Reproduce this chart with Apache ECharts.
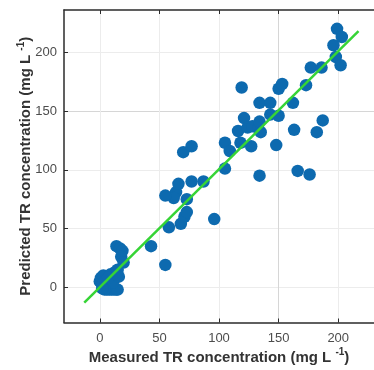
<!DOCTYPE html>
<html>
<head>
<meta charset="utf-8">
<script src="https://cdn.jsdelivr.net/npm/echarts@6/dist/echarts.min.js"></script>
<style>
  html, body { margin: 0; padding: 0; background: #fff; }
  #chart { width: 374px; height: 370px; }
</style>
</head>
<body>
<div id="chart"></div>
<script>
// Measured vs predicted TR concentration (mg L^-1)
const measured = [
  0, 1, 2, 3, 4, 5, 6, 8, 10, 12, 14, 15, 9, 11, 13, 7, 4, 2,
  14, 17, 19, 18, 20, 15, 16,
  43, 55,
  58, 68, 71, 73, 73, 64, 62, 55, 66, 77, 87, 96, 70, 77,
  105, 105, 109,
  118, 127, 148, 134, 166, 176,
  116, 121, 124, 128, 133, 135, 134, 143, 150, 163, 182, 187,
  119, 134, 143, 150, 153, 162, 173, 177, 186, 196, 199, 203, 198, 202
];
const predicted = [
  5, 8, 2, 10, 0, 6, -2, -2, -2, -2, -2, -2, 11, 4, 13, 8, -2, -1,
  35, 33, 31, 26, 21, 15, 9,
  35, 19,
  51, 54, 60, 64, 75, 81, 76, 78, 88, 90, 90, 58, 115, 120,
  101, 123, 116,
  123, 120, 121, 95, 99, 96,
  133, 144, 136, 137, 135, 132, 141, 147, 146, 134, 132, 142,
  170, 157, 157, 169, 173, 157, 172, 187, 187, 206, 220, 213, 196, 189
];
// Fitted line end points
const fitX = [-13, 217];
const fitY = [-13, 218];
const tickValues = [0, 50, 100, 150, 200];

const xTitle = 'Measured TR concentration (mg L ';
const yTitle = 'Predicted TR concentration (mg L ';

const points = measured.map((x, i) => [x, predicted[i]]);
const fitLine = fitX.map((x, i) => [x, fitY[i]]);

const font = '"Liberation Sans", Arial, sans-serif';
const axisDark = '#2b2b2b';
// grid every 10 units, darker every 50 (ticks start at -30)
const gridColors = ['#ececec', '#ececec', '#ececec', '#d6d6d6', '#ececec'];

const titleRich = {
  t: { fontFamily: font, fontSize: 15, fontWeight: 'bold', color: '#333', lineHeight: 20 },
  s: { fontFamily: font, fontSize: 10, fontWeight: 'bold', color: '#333', lineHeight: 10, verticalAlign: 'top' }
};

const tickLabel = { color: '#4d4d4d', fontSize: 13, fontFamily: font };

function valueAxis(extra) {
  return Object.assign({
    type: 'value',
    interval: 10,
    nameMoveOverlap: false,
    axisLine: { show: true, onZero: false, lineStyle: { color: axisDark, width: 1.5 } },
    axisTick: { show: true, inside: true, length: 4, customValues: tickValues, lineStyle: { color: axisDark } },
    splitLine: { show: true, lineStyle: { color: gridColors, width: 1 } }
  }, extra);
}

const chart = echarts.init(document.getElementById('chart'), null, { renderer: 'canvas' });
chart.setOption({
  animation: false,
  backgroundColor: '#fff',
  grid: { left: 64, top: 10, width: 310, height: 313, containLabel: false },
  xAxis: [
    valueAxis({
      min: -30, max: 230, position: 'bottom',
      name: '{t|' + xTitle + '}{s|-1}{t|)}',
      nameLocation: 'middle', nameGap: 25,
      nameTextStyle: { rich: titleRich },
      axisLabel: Object.assign({ show: true, customValues: tickValues, margin: 9 }, tickLabel)
    }),
    valueAxis({
      min: -30, max: 230, position: 'top',
      axisLabel: { show: false },
      splitLine: { show: false }
    })
  ],
  yAxis: [
    valueAxis({
      min: -30, max: 236, position: 'left',
      name: '{t|' + yTitle + '}{s|-1}{t|)}',
      nameLocation: 'middle', nameGap: 28, nameRotate: 90,
      nameTextStyle: { rich: titleRich },
      axisLabel: Object.assign({ show: true, customValues: tickValues, margin: 7 }, tickLabel)
    })
  ],
  series: [
    {
      type: 'scatter',
      data: points,
      symbolSize: 12.5,
      itemStyle: { color: '#0d6aaf', opacity: 1 },
      z: 3
    },
    {
      type: 'line',
      data: fitLine,
      showSymbol: false,
      symbol: 'none',
      lineStyle: { color: '#36d436', width: 2.5 },
      z: 4
    }
  ]
});
</script>
</body>
</html>
